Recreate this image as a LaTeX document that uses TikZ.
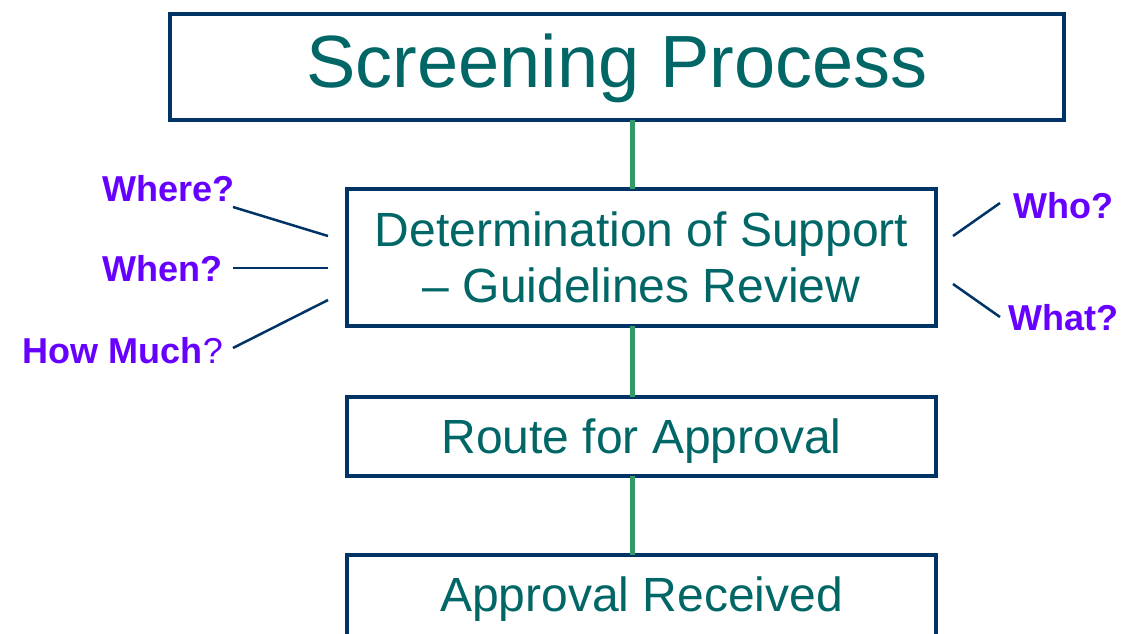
\documentclass[tikz,border=0pt]{standalone}
\usepackage{fontspec}
\setmainfont{Liberation Sans}
\definecolor{navy}{HTML}{003366}
\definecolor{teal2}{HTML}{006666}
\definecolor{conn}{HTML}{339966}
\definecolor{qpurple}{HTML}{6600FF}
\tikzset{
  box/.style={draw=navy, line width=4pt, fill=white, text=teal2, inner sep=0pt, align=center},
  spine/.style={draw=conn, line width=5pt},
  qline/.style={draw=navy, line width=2.5pt},
  qlabel/.style={text=qpurple, inner sep=0pt, font=\fontsize{36}{40}\selectfont\bfseries}
}
\begin{document}
\begin{tikzpicture}[x=1pt,y=-1pt]
\useasboundingbox (0,0) rectangle (1127,633);
\clip (0,0) rectangle (1127,633);
\coordinate (sp) at (632,0);
\node[box, minimum width=894pt, minimum height=106pt, font=\fontsize{74}{80}\selectfont, text height=53pt, text depth=13pt] (top) at (617,67) {Screening Process};
\node[box, minimum width=589pt, minimum height=137pt, font=\fontsize{48}{56}\selectfont, text height=90pt, text depth=0pt] (det) at (641.5,257.5) {Determination of Support\\– Guidelines Review};
\node[box, minimum width=589pt, minimum height=79pt, font=\fontsize{48}{56}\selectfont, text height=34pt, text depth=0pt] (route) at (641.5,436.5) {Route for Approval};
\node[box, minimum width=589pt, minimum height=90pt, font=\fontsize{48}{56}\selectfont, text height=34pt, text depth=11pt] (recv) at (641.5,600) {Approval Received};
\draw[spine] ([yshift=2pt]top.south -| sp) -- ([yshift=-2pt]det.north -| sp);
\draw[spine] ([yshift=2pt]det.south -| sp) -- ([yshift=-2pt]route.north -| sp);
\draw[spine] ([yshift=2pt]route.south -| sp) -- ([yshift=-2pt]recv.north -| sp);
% question labels
\node[qlabel, anchor=base east] (where) at (235,201) {Where?};
\node[qlabel, anchor=base east] (when) at (223,281) {When?};
\node[qlabel, anchor=base east] (howmuch) at (223,363) {How Much{\mdseries ?}};
\node[qlabel, anchor=base west] (who) at (1013,218) {Who?};
\node[qlabel, anchor=base west] (what) at (1008,330) {What?};
\coordinate (w1) at (233,207);
\coordinate (w2) at (328,236);
\coordinate (n1) at (233,268);
\coordinate (n2) at (328,268);
\coordinate (h1) at (233,348);
\coordinate (h2) at (328,300);
\coordinate (o1) at (1000,203);
\coordinate (o2) at (953,236);
\coordinate (a1) at (1000,317);
\coordinate (a2) at (953,284);
\draw[qline] (w1) -- (w2);
\draw[qline] (n1) -- (n2);
\draw[qline] (h1) -- (h2);
\draw[qline] (o2) -- (o1);
\draw[qline] (a2) -- (a1);
\end{tikzpicture}
\end{document}
